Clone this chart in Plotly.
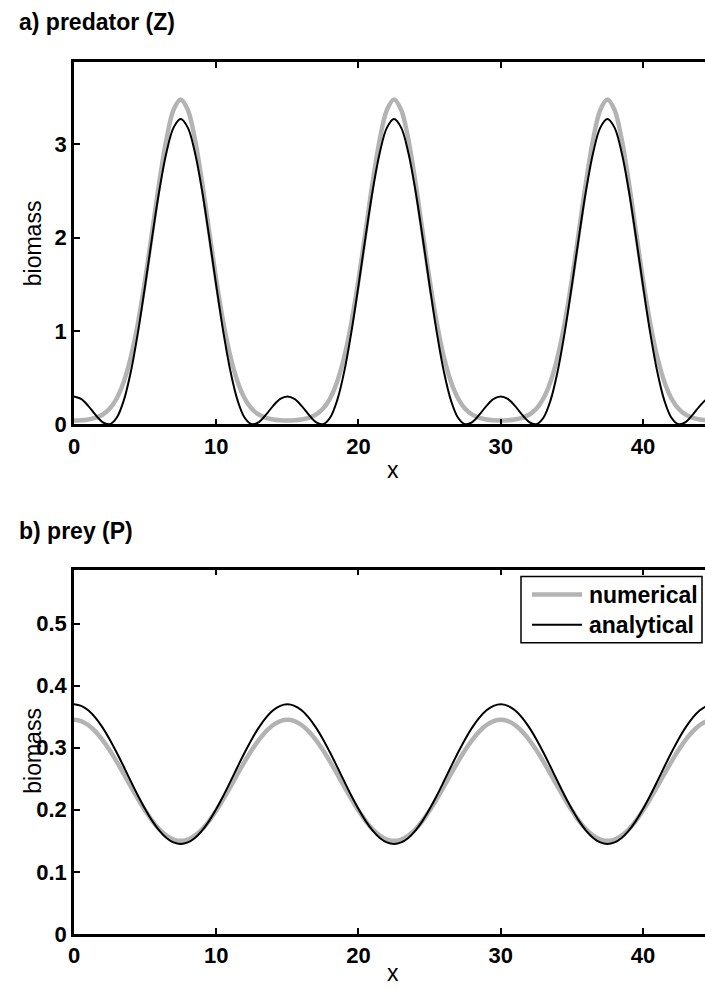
import plotly.graph_objects as go

# x positions (step 0.5 from 0 to 45)
x_vals = [i * 0.5 for i in range(91)]

# a) predator Z -- numerical (grey) and analytical (black)
z_numerical = [
    0.042, 0.045, 0.053, 0.070, 0.104, 0.167, 0.278, 0.457, 0.724, 1.090, 1.548, 2.070, 2.597, 3.055, 3.368, 3.480,
    3.368, 3.055, 2.597, 2.070, 1.548, 1.090, 0.724, 0.457, 0.278, 0.167, 0.104, 0.070, 0.053, 0.045, 0.042,
    0.045, 0.053, 0.070, 0.104, 0.167, 0.278, 0.457, 0.724, 1.090, 1.548, 2.070, 2.597, 3.055, 3.368, 3.480,
    3.368, 3.055, 2.597, 2.070, 1.548, 1.090, 0.724, 0.457, 0.278, 0.167, 0.104, 0.070, 0.053, 0.045, 0.042,
    0.045, 0.053, 0.070, 0.104, 0.167, 0.278, 0.457, 0.724, 1.090, 1.548, 2.070, 2.597, 3.055, 3.368, 3.480,
    3.368, 3.055, 2.597, 2.070, 1.548, 1.090, 0.724, 0.457, 0.278, 0.167, 0.104, 0.070, 0.053, 0.045, 0.042,
]
z_analytical = [
    0.300, 0.273, 0.199, 0.104, 0.025, 0.002, 0.071, 0.257, 0.568, 0.989, 1.487, 2.012, 2.507, 2.912, 3.178, 3.270,
    3.178, 2.912, 2.507, 2.012, 1.487, 0.989, 0.568, 0.257, 0.071, 0.002, 0.025, 0.104, 0.199, 0.273, 0.300,
    0.273, 0.199, 0.104, 0.025, 0.002, 0.071, 0.257, 0.568, 0.989, 1.487, 2.012, 2.507, 2.912, 3.178, 3.270,
    3.178, 2.912, 2.507, 2.012, 1.487, 0.989, 0.568, 0.257, 0.071, 0.002, 0.025, 0.104, 0.199, 0.273, 0.300,
    0.273, 0.199, 0.104, 0.025, 0.002, 0.071, 0.257, 0.568, 0.989, 1.487, 2.012, 2.507, 2.912, 3.178, 3.270,
    3.178, 2.912, 2.507, 2.012, 1.487, 0.989, 0.568, 0.257, 0.071, 0.002, 0.025, 0.104, 0.199, 0.273, 0.300,
]

# b) prey P -- numerical (grey) and analytical (black)
p_numerical = [
    0.345, 0.3429, 0.3366, 0.3264, 0.3127, 0.2963, 0.2776, 0.2577, 0.2373, 0.2174, 0.1988, 0.1823, 0.1686, 0.1584, 0.1521, 0.150,
    0.1521, 0.1584, 0.1686, 0.1823, 0.1988, 0.2174, 0.2373, 0.2577, 0.2776, 0.2963, 0.3127, 0.3264, 0.3366, 0.3429, 0.345,
    0.3429, 0.3366, 0.3264, 0.3127, 0.2963, 0.2776, 0.2577, 0.2373, 0.2174, 0.1988, 0.1823, 0.1686, 0.1584, 0.1521, 0.150,
    0.1521, 0.1584, 0.1686, 0.1823, 0.1988, 0.2174, 0.2373, 0.2577, 0.2776, 0.2963, 0.3127, 0.3264, 0.3366, 0.3429, 0.345,
    0.3429, 0.3366, 0.3264, 0.3127, 0.2963, 0.2776, 0.2577, 0.2373, 0.2174, 0.1988, 0.1823, 0.1686, 0.1584, 0.1521, 0.150,
    0.1521, 0.1584, 0.1686, 0.1823, 0.1988, 0.2174, 0.2373, 0.2577, 0.2776, 0.2963, 0.3127, 0.3264, 0.3366, 0.3429, 0.345,
]
p_analytical = [
    0.370, 0.3675, 0.3603, 0.3485, 0.3328, 0.3138, 0.2923, 0.2693, 0.2457, 0.2227, 0.2013, 0.1822, 0.1665, 0.1547, 0.1475, 0.145,
    0.1475, 0.1547, 0.1665, 0.1822, 0.2013, 0.2227, 0.2457, 0.2693, 0.2923, 0.3138, 0.3328, 0.3485, 0.3603, 0.3675, 0.370,
    0.3675, 0.3603, 0.3485, 0.3328, 0.3138, 0.2923, 0.2693, 0.2457, 0.2227, 0.2013, 0.1822, 0.1665, 0.1547, 0.1475, 0.145,
    0.1475, 0.1547, 0.1665, 0.1822, 0.2013, 0.2227, 0.2457, 0.2693, 0.2923, 0.3138, 0.3328, 0.3485, 0.3603, 0.3675, 0.370,
    0.3675, 0.3603, 0.3485, 0.3328, 0.3138, 0.2923, 0.2693, 0.2457, 0.2227, 0.2013, 0.1822, 0.1665, 0.1547, 0.1475, 0.145,
    0.1475, 0.1547, 0.1665, 0.1822, 0.2013, 0.2227, 0.2457, 0.2693, 0.2923, 0.3138, 0.3328, 0.3485, 0.3603, 0.3675, 0.370,
]

x_ticks = [0, 10, 20, 30, 40]
z_ticks = [0, 1, 2, 3]
p_ticks = [0, 0.1, 0.2, 0.3, 0.4, 0.5]
p_tick_text = ["0", "0.1", "0.2", "0.3", "0.4", "0.5"]

panel_titles = ["a) predator (Z)", "b) prey (P)"]
series_names = ["numerical", "analytical"]

GREY = "#b3b3b3"
FONT = "Liberation Sans, Arial, sans-serif"

fig = go.Figure()
fig.add_trace(go.Scatter(x=x_vals, y=z_numerical, mode="lines", name=series_names[0],
                         line=dict(color=GREY, width=4.5, shape="spline"), xaxis="x", yaxis="y"))
fig.add_trace(go.Scatter(x=x_vals, y=z_analytical, mode="lines", name=series_names[1],
                         line=dict(color="black", width=2, shape="spline"), xaxis="x", yaxis="y"))
fig.add_trace(go.Scatter(x=x_vals, y=p_numerical, mode="lines", name=series_names[0],
                         line=dict(color=GREY, width=4.5, shape="spline"), xaxis="x2", yaxis="y2"))
fig.add_trace(go.Scatter(x=x_vals, y=p_analytical, mode="lines", name=series_names[1],
                         line=dict(color="black", width=2, shape="spline"), xaxis="x2", yaxis="y2"))

W = 705
H = 1004
SY = H / 990.0  # vertical layout scale
L = 74
PW = W - L


def py(px):  # reference y -> paper fraction
    return (H - px * SY) / H


def pxx(px):  # reference x -> paper fraction
    return (px - L) / PW


xcommon = dict(range=[0, 44.36], tickvals=x_ticks, ticks="inside", ticklen=6, tickwidth=1.5, tickcolor="black",
               showline=True, linecolor="black", linewidth=2.5, mirror="ticks", showgrid=False, zeroline=False,
               tickfont=dict(family=FONT, size=22, color="black", weight="bold"), domain=[0, 1])
ycommon = dict(ticks="inside", ticklen=6, tickwidth=1.5, tickcolor="black", showline=True, linecolor="black",
               linewidth=2.5, mirror=False, showgrid=False, zeroline=False,
               tickfont=dict(family=FONT, size=22, color="black", weight="bold"))

fig.update_layout(
    width=W, height=H,
    margin=dict(l=L, r=0, t=0, b=0),
    paper_bgcolor="white", plot_bgcolor="white",
    showlegend=False,
    xaxis=dict(**xcommon, anchor="y"),
    yaxis=dict(**ycommon, range=[0, 3.88], tickvals=z_ticks, domain=[py(424), py(62)], anchor="x"),
    xaxis2=dict(**xcommon, anchor="y2"),
    yaxis2=dict(**ycommon, range=[0, 0.587], tickvals=p_ticks, ticktext=p_tick_text,
                domain=[py(933), py(569)], anchor="x2"),
)

annotations = [
    dict(text=panel_titles[0], x=pxx(17), y=py(22), xanchor="left", yanchor="middle"),
    dict(text=panel_titles[1], x=pxx(17), y=py(530), xanchor="left", yanchor="middle"),
    dict(text=series_names[0], x=pxx(587), y=py(594), xanchor="left", yanchor="middle"),
    dict(text=series_names[1], x=pxx(587), y=py(624), xanchor="left", yanchor="middle"),
]
for a in annotations:
    a.update(xref="paper", yref="paper", showarrow=False, font=dict(family=FONT, size=23, color="black", weight="bold"))
labels = [
    dict(text="biomass", x=pxx(33), y=py(243), textangle=-90),
    dict(text="biomass", x=pxx(33), y=py(750), textangle=-90),
    dict(text="x", x=pxx(393), y=py(470)),
    dict(text="x", x=pxx(393), y=py(972)),
]
for a in labels:
    a.update(xref="paper", yref="paper", showarrow=False, xanchor="center", yanchor="middle",
             font=dict(family=FONT, size=23, color="black"))

# legend box for panel b)
shapes = [
    dict(type="rect", x0=pxx(521), x1=pxx(702), y0=py(576), y1=py(642), fillcolor="white",
         line=dict(color="black", width=1.5)),
    dict(type="line", x0=pxx(532), x1=pxx(582), y0=py(594), y1=py(594), line=dict(color=GREY, width=4.5)),
    dict(type="line", x0=pxx(532), x1=pxx(582), y0=py(624), y1=py(624), line=dict(color="black", width=2)),
]
for s in shapes:
    s.update(xref="paper", yref="paper", layer="above")

fig.update_layout(annotations=annotations + labels, shapes=shapes)

fig.write_html(
    "out.html",
    config={"displayModeBar": False},
    post_script="document.body.style.margin='0px';document.documentElement.style.overflow='hidden';",
)
